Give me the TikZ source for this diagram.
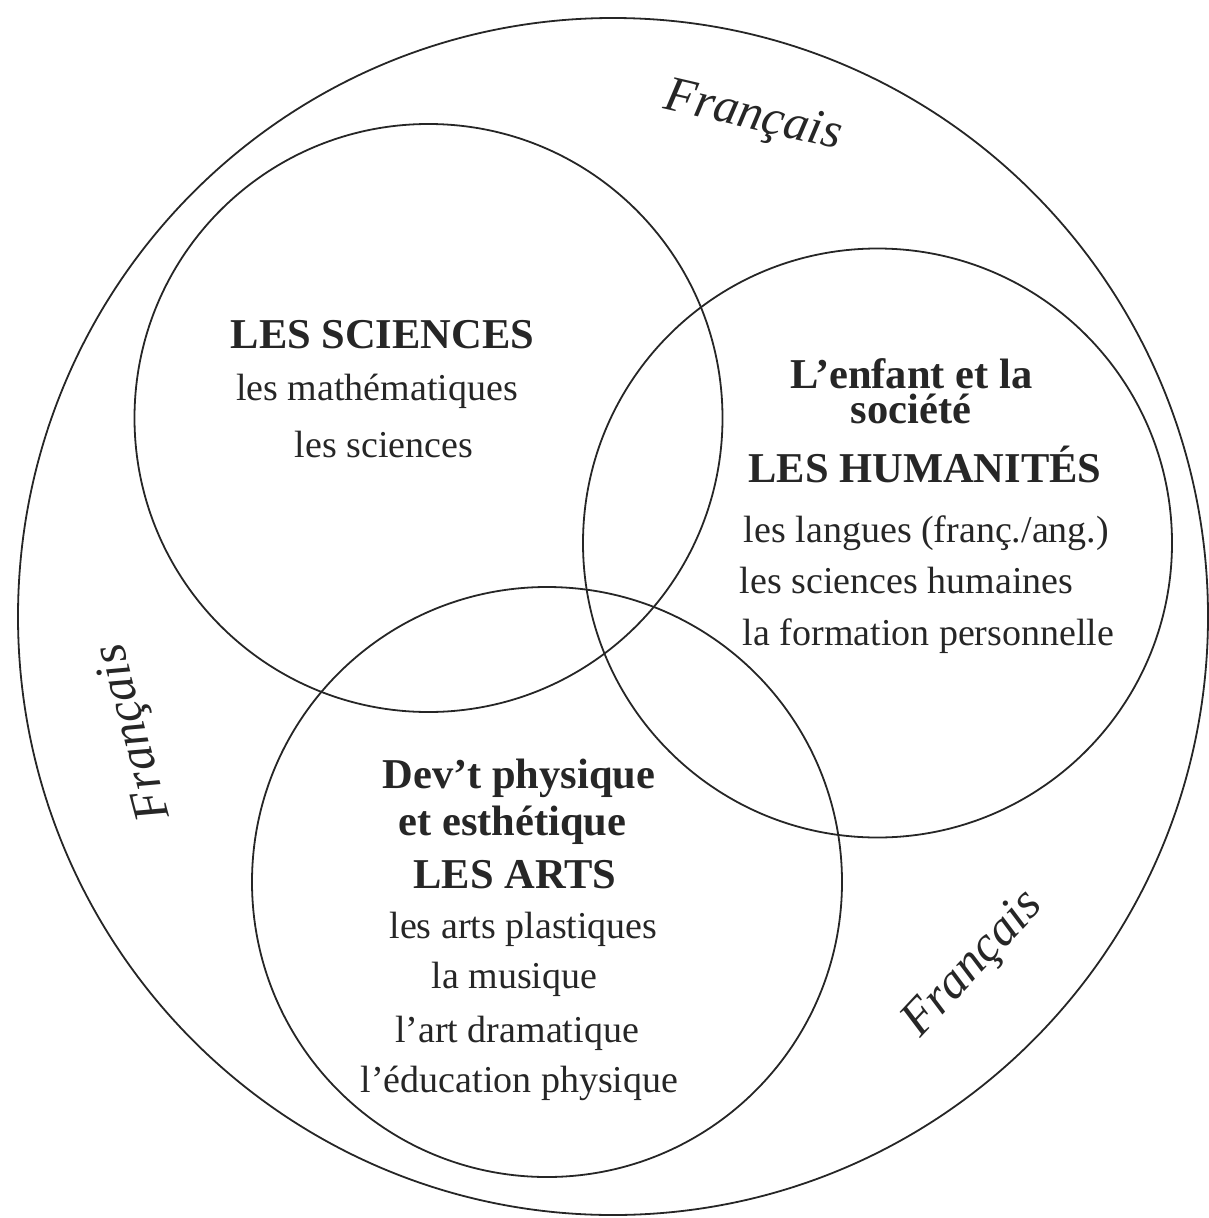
\documentclass[tikz,border=0pt]{standalone}
\usepackage{fontspec}
\setmainfont{Liberation Serif}
\begin{document}
\begin{tikzpicture}[x=1pt,y=-1pt,
  ring/.style={draw=black!85, line width=1.8pt},
  reg/.style={font=\fontsize{38}{44}\selectfont, anchor=base, inner sep=0pt, text=black!85},
  hd/.style={font=\fontsize{42.5}{48}\selectfont\bfseries, anchor=base, inner sep=0pt, text=black!85},
  fr/.style={font=\fontsize{50}{56}\selectfont\itshape, inner sep=0pt, text=black!85}]
\useasboundingbox (0,0) rectangle (1209,1218);
% circles
\coordinate (outerc) at (613,616.5);
\coordinate (scic) at (428.5,418);
\coordinate (humc) at (877.5,543);
\coordinate (artc) at (547,882);
\draw[ring] (outerc) ellipse [x radius=595pt, y radius=598.5pt];
\draw[ring] (scic) circle [radius=294pt];
\draw[ring] (humc) circle [radius=294.5pt];
\draw[ring] (artc) circle [radius=295pt];
% Français labels
\node[fr, rotate=-13] (frtop) at (753,118) {Français};
\node[fr, rotate=105] (frleft) at (135,732) {Français};
\node[fr, rotate=47] (frright) at (974,965) {Français};
% sciences
\node[hd] (sci1) at (382.5,348) {LES SCIENCES};
\node[reg] (sci2) at (377,400) {les mathématiques};
\node[reg] (sci3) at (384,457) {les sciences};
% humanités
\node[hd] (hum1) at (911.5,388) {L’enfant et la};
\node[hd] (hum2) at (911,423) {société};
\node[hd] (hum3) at (925,482) {LES HUMANITÉS};
\node[reg] (hum4) at (926.5,542) {les langues (franç./ang.)};
\node[reg] (hum5) at (906.5,593) {les sciences humaines};
\node[reg] (hum6) at (928.5,645) {la formation personnelle};
% arts
\node[hd] (art1) at (519,788) {Dev’t physique};
\node[hd] (art2) at (512.5,835) {et esthétique};
\node[hd] (art3) at (515,888) {LES ARTS};
\node[reg] (art4) at (523.5,938) {les arts plastiques};
\node[reg] (art5) at (514.5,988) {la musique};
\node[reg] (art6) at (517,1042) {l’art dramatique};
\node[reg] (art7) at (519.5,1092) {l’éducation physique};
\end{tikzpicture}
\end{document}
